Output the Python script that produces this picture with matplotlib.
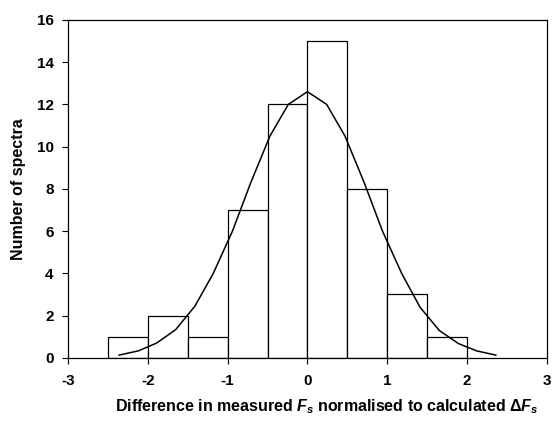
import numpy as np
import matplotlib.pyplot as plt

plt.rcParams['font.family'] = 'Liberation Sans'
plt.rcParams['font.weight'] = 'bold'
plt.rcParams['axes.unicode_minus'] = False
plt.rcParams['mathtext.fontset'] = 'custom'
plt.rcParams['mathtext.rm'] = 'Liberation Sans:bold'
plt.rcParams['mathtext.it'] = 'Liberation Sans:italic:bold'
plt.rcParams['mathtext.bf'] = 'Liberation Sans:bold'

# histogram bins (left edges, width 0.5) and counts
bin_left = [-2.5, -2.0, -1.5, -1.0, -0.5, 0.0, 0.5, 1.0, 1.5]
counts = [1, 2, 1, 7, 12, 15, 8, 3, 1]

# fitted curve
curve_x = [-2.36, -2.12, -1.89, -1.65, -1.41, -1.18, -0.94, -0.71, -0.47, -0.24, 0.0,
           0.24, 0.47, 0.71, 0.94, 1.18, 1.41, 1.65, 1.89, 2.12, 2.36]
curve_y = [0.13, 0.33, 0.7, 1.34, 2.45, 4.0, 6.0, 8.3, 10.5, 12.0, 12.6,
           12.0, 10.5, 8.3, 6.0, 4.0, 2.4, 1.3, 0.68, 0.33, 0.13]

fig = plt.figure(figsize=(5.53, 4.23), dpi=100)
ax = fig.add_axes([0.123, 0.154, 0.866, 0.799])

ax.bar(bin_left, counts, width=0.5, align='edge', facecolor='white',
       edgecolor='black', linewidth=0.9)
ax.plot(curve_x, curve_y, color='black', linewidth=1.1)

ax.set_xlim(-3, 3)
ax.set_ylim(0, 16)
ax.set_xticks(range(-3, 4))
ax.set_yticks(range(0, 17, 2))
ax.tick_params(direction='out', length=4.3, width=0.8, labelsize=11)
ax.tick_params(axis='x', pad=7)
ax.tick_params(axis='y', pad=6)
for s in ax.spines.values():
    s.set_linewidth(0.9)

ax.set_ylabel('Number of spectra', fontsize=11.5, fontweight='bold', labelpad=7.5)
ax.set_xlabel(r'Difference in measured $F_s$ normalised to calculated $\Delta F_s$',
              fontsize=11.5, fontweight='bold', labelpad=7)
ax.xaxis.label.set_x(0.541)

fig.savefig('out.png', dpi=100)
